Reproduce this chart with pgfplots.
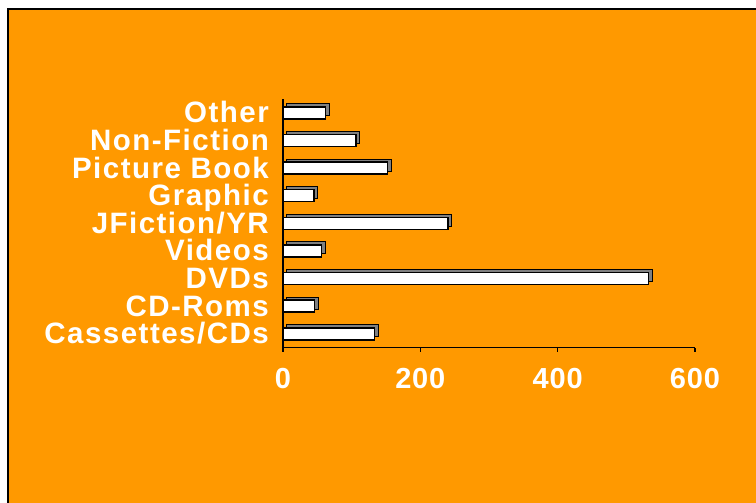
\documentclass[border=0pt]{standalone}
\usepackage{fontspec}
\setmainfont{Liberation Sans}
\newfontfamily\lblfont[LetterSpace=3]{Liberation Sans Bold}
\newfontfamily\ylblfont[LetterSpace=5]{Liberation Sans Bold}
\usepackage{pgfplots}
\pgfplotsset{compat=1.18}
\definecolor{bgorange}{HTML}{FF9900}
\definecolor{shadowgray}{HTML}{808080}
\begin{document}
\begin{tikzpicture}[x=1pt,y=1pt]
\useasboundingbox (0,0) rectangle (756,503);
\fill[white] (0,0) rectangle (756,503);
\fill[bgorange] (8,0) rectangle (756,494);
\draw[black, line width=2pt] (8,0) -- (8,494) -- (756,494);
\begin{axis}[
  at={(283pt,155.3pt)}, anchor=south west,
  width=412pt, height=248.7pt, scale only axis,
  xmin=0, xmax=600, ymin=-0.5, ymax=8.5,
  clip=false,
  axis lines*=left,
  axis line style={black, line width=1.2pt},
  xtick={0,200,400,600},
  tick align=outside,
  major tick length=4pt,
  x tick style={black, line width=1.2pt},
  ytick={0,...,8},
  yticklabels={Cassettes/CDs,CD-Roms,DVDs,Videos,JFiction/YR,Graphic,Picture Book,Non-Fiction,Other},
  y tick style={draw=none},
  minor ytick={-0.5,0.5,...,8.5},
  minor tick length=5pt,
  minor tick style={black, line width=1.2pt},
  xticklabel style={font=\lblfont\fontsize{29}{29}\selectfont, text=white, inner sep=0pt, yshift=-16pt},
  yticklabel style={font=\ylblfont\fontsize{29.5}{29.5}\selectfont, text=white, anchor=base east, inner sep=0pt, xshift=-10pt, yshift=-10pt},
  /pgf/number format/assume math mode=true,
  xbar, bar width=12pt,
]
\addplot[fill=shadowgray, draw=black, line width=1pt, bar shift=3pt, xshift=4pt] coordinates {
(133,0) (46,1) (532,2) (56,3) (240,4) (45,5) (152,6) (106,7) (62,8)};
\addplot[fill=white, draw=black, line width=1.5pt, bar shift=0pt] coordinates {
(133,0) (46,1) (532,2) (56,3) (240,4) (45,5) (152,6) (106,7) (62,8)};
\end{axis}
\end{tikzpicture}
\end{document}
